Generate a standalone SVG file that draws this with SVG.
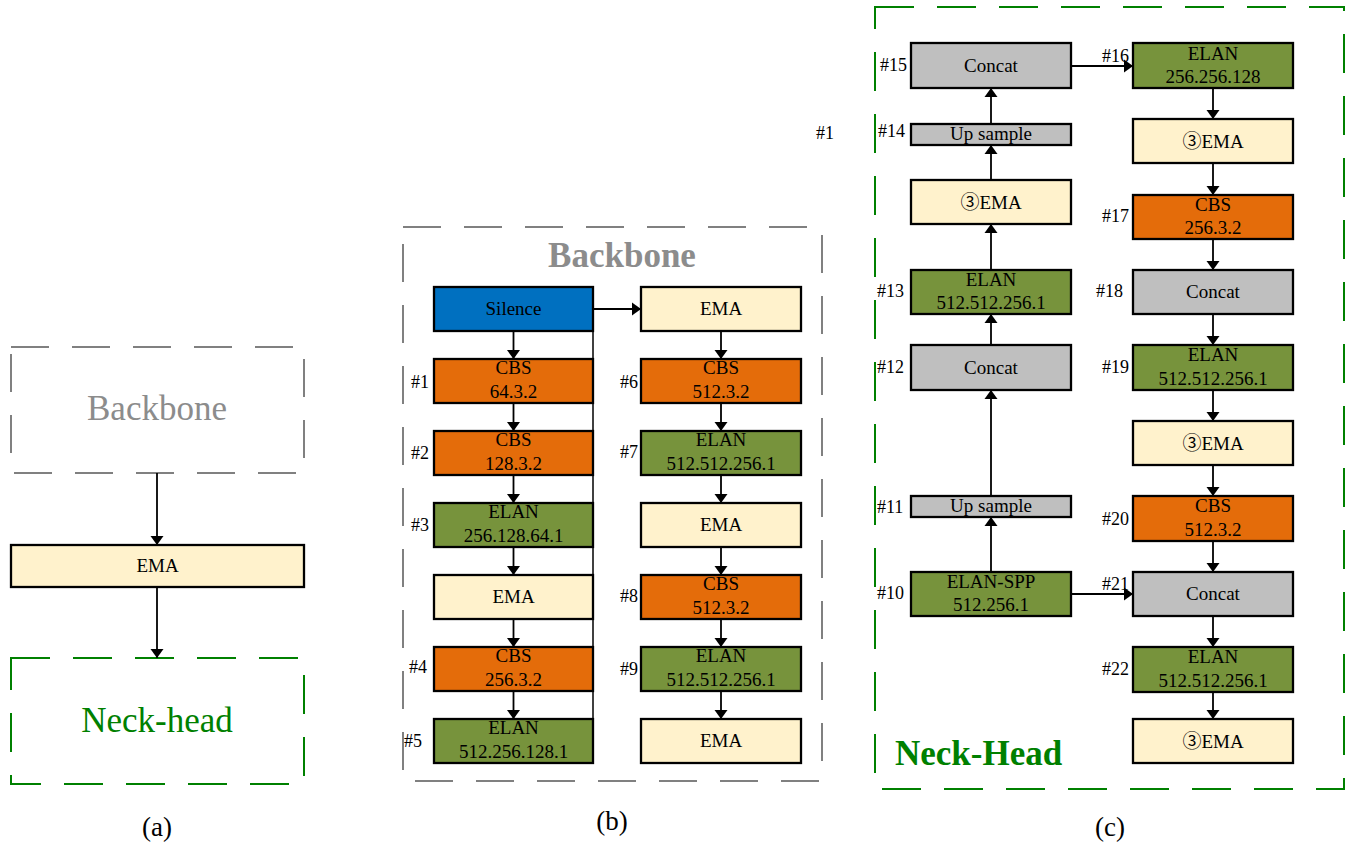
<svg xmlns="http://www.w3.org/2000/svg" width="1348" height="842" viewBox="0 0 1348 842">
<style>
.bx{stroke:#000;stroke-width:2.3}
.blue{fill:#0070C0}
.orange{fill:#E46C0A}
.green{fill:#77933C}
.gray{fill:#BFBFBF}
.ema{fill:#FFF2CC}
text{font-family:"Liberation Serif","Noto Sans CJK SC",serif;fill:#000}
.t{font-size:19px;text-anchor:middle}
.lb{font-size:18px}
.le{font-size:18px;text-anchor:end}
.cap{font-size:27px;text-anchor:middle}
.dg{fill:none;stroke:#808080;stroke-width:2;stroke-dasharray:38 23}
.dgr{fill:none;stroke:#008000;stroke-width:2;stroke-dasharray:39 23}
.c{fill:none;stroke:#000;stroke-width:1.8;marker-end:url(#ah)}
.cl{fill:none;stroke:#000;stroke-width:1.5}
</style>
<defs>
<marker id="ah" markerUnits="userSpaceOnUse" markerWidth="14" markerHeight="14" viewBox="0 0 14 14" refX="9" refY="7" orient="auto">
<path d="M0,0.5 L9,7 L0,13.5 z" fill="#000"/>
</marker>
</defs>
<rect width="1348" height="842" fill="#fff"/>

<!-- Panel (a) -->
<g id="a-backbone">
<rect class="dg" x="11" y="347" width="293" height="126"/>
<text x="157" y="420" font-size="35" text-anchor="middle" style="fill:#8c8c8c">Backbone</text>
</g>
<g id="a-ema">
<rect class="bx ema" x="11" y="545" width="293" height="42"/>
<text class="t" x="157.5" y="572">EMA</text>
</g>
<g id="a-neck">
<rect class="dgr" x="11" y="658" width="293" height="126"/>
<text x="157" y="732" font-size="35" text-anchor="middle" style="fill:#008000">Neck-head</text>
</g>
<text class="cap" x="157" y="836">(a)</text>

<!-- Panel (b) -->
<g id="b-frame">
<rect class="dg" x="403" y="227" width="419" height="554"/>
<text x="622" y="267" font-size="35" font-weight="bold" text-anchor="middle" style="fill:#8c8c8c">Backbone</text>
</g>
<g id="b-silence"><rect class="bx blue" x="434" y="287" width="159" height="44"/><text class="t" x="513.5" y="315">Silence</text></g>
<g id="b-1"><rect class="bx orange" x="434" y="359" width="159" height="44"/><text class="t" x="513.5" y="374">CBS</text><text class="t" x="513.5" y="398">64.3.2</text><text class="le" x="429" y="388">#1</text></g>
<g id="b-2"><rect class="bx orange" x="434" y="431" width="159" height="44"/><text class="t" x="513.5" y="446">CBS</text><text class="t" x="513.5" y="470">128.3.2</text><text class="le" x="429" y="459">#2</text></g>
<g id="b-3"><rect class="bx green" x="434" y="503" width="159" height="44"/><text class="t" x="513.5" y="518">ELAN</text><text class="t" x="513.5" y="542">256.128.64.1</text><text class="le" x="429" y="531">#3</text></g>
<g id="b-ema1"><rect class="bx ema" x="434" y="575" width="159" height="44"/><text class="t" x="513.5" y="603">EMA</text></g>
<g id="b-4"><rect class="bx orange" x="434" y="647" width="159" height="44"/><text class="t" x="513.5" y="662">CBS</text><text class="t" x="513.5" y="686">256.3.2</text><text class="le" x="427" y="673">#4</text></g>
<g id="b-5"><rect class="bx green" x="434" y="719" width="159" height="44"/><text class="t" x="513.5" y="734">ELAN</text><text class="t" x="513.5" y="758">512.256.128.1</text><text class="le" x="422" y="747">#5</text></g>

<g id="b-ema0"><rect class="bx ema" x="641" y="287" width="160" height="44"/><text class="t" x="721" y="315">EMA</text></g>
<g id="b-6"><rect class="bx orange" x="641" y="359" width="160" height="44"/><text class="t" x="721" y="374">CBS</text><text class="t" x="721" y="398">512.3.2</text><text class="le" x="638" y="388">#6</text></g>
<g id="b-7"><rect class="bx green" x="641" y="431" width="160" height="44"/><text class="t" x="721" y="446">ELAN</text><text class="t" x="721" y="470">512.512.256.1</text><text class="le" x="638" y="458">#7</text></g>
<g id="b-ema2"><rect class="bx ema" x="641" y="503" width="160" height="44"/><text class="t" x="721" y="531">EMA</text></g>
<g id="b-8"><rect class="bx orange" x="641" y="575" width="160" height="44"/><text class="t" x="721" y="590">CBS</text><text class="t" x="721" y="614">512.3.2</text><text class="le" x="638" y="602">#8</text></g>
<g id="b-9"><rect class="bx green" x="641" y="647" width="160" height="44"/><text class="t" x="721" y="662">ELAN</text><text class="t" x="721" y="686">512.512.256.1</text><text class="le" x="638" y="675">#9</text></g>
<g id="b-ema3"><rect class="bx ema" x="641" y="719" width="160" height="44"/><text class="t" x="721" y="747">EMA</text></g>
<text class="cap" x="612" y="830">(b)</text>

<!-- Panel (c) -->
<g id="c-frame">
<rect class="dgr" x="875" y="7" width="469" height="782"/>
<text x="895" y="765" font-size="35" font-weight="bold" style="fill:#008000">Neck-Head</text>
</g>
<text class="lb" x="816" y="139">#1</text>
<g id="c-15"><rect class="bx gray" x="911" y="43" width="160" height="45"/><text class="t" x="991" y="72">Concat</text><text class="le" x="907" y="71">#15</text></g>
<g id="c-14"><rect class="bx gray" x="911" y="124" width="160" height="21"/><text class="t" x="991" y="140">Up sample</text><text class="le" x="905" y="137">#14</text></g>
<g id="c-ema1"><rect class="bx ema" x="911" y="180" width="160" height="44"/><text class="t" x="991" y="209">③EMA</text></g>
<g id="c-13"><rect class="bx green" x="911" y="270" width="160" height="44"/><text class="t" x="991" y="286">ELAN</text><text class="t" x="991" y="309">512.512.256.1</text><text class="lb" x="877" y="297">#13</text></g>
<g id="c-12"><rect class="bx gray" x="911" y="345" width="160" height="45"/><text class="t" x="991" y="374">Concat</text><text class="lb" x="877" y="373">#12</text></g>
<g id="c-11"><rect class="bx gray" x="911" y="496" width="160" height="21"/><text class="t" x="991" y="512">Up sample</text><text class="lb" x="877" y="513">#11</text></g>
<g id="c-10"><rect class="bx green" x="911" y="572" width="160" height="44"/><text class="t" x="991" y="588">ELAN-SPP</text><text class="t" x="991" y="611">512.256.1</text><text class="lb" x="877" y="599">#10</text></g>

<g id="c-16"><rect class="bx green" x="1133" y="43" width="160" height="45"/><text class="t" x="1213" y="60">ELAN</text><text class="t" x="1213" y="83">256.256.128</text><text class="lb" x="1102" y="62">#16</text></g>
<g id="c-ema2"><rect class="bx ema" x="1133" y="119" width="160" height="44"/><text class="t" x="1213" y="148">③EMA</text></g>
<g id="c-17"><rect class="bx orange" x="1133" y="195" width="160" height="44"/><text class="t" x="1213" y="211">CBS</text><text class="t" x="1213" y="234">256.3.2</text><text class="lb" x="1102" y="222">#17</text></g>
<g id="c-18"><rect class="bx gray" x="1133" y="270" width="160" height="44"/><text class="t" x="1213" y="298">Concat</text><text class="lb" x="1096" y="297">#18</text></g>
<g id="c-19"><rect class="bx green" x="1133" y="345" width="160" height="45"/><text class="t" x="1213" y="361">ELAN</text><text class="t" x="1213" y="385">512.512.256.1</text><text class="lb" x="1102" y="373">#19</text></g>
<g id="c-ema3"><rect class="bx ema" x="1133" y="421" width="160" height="44"/><text class="t" x="1213" y="450">③EMA</text></g>
<g id="c-20"><rect class="bx orange" x="1133" y="496" width="160" height="45"/><text class="t" x="1213" y="512">CBS</text><text class="t" x="1213" y="536">512.3.2</text><text class="lb" x="1102" y="525">#20</text></g>
<g id="c-21"><rect class="bx gray" x="1133" y="572" width="160" height="44"/><text class="t" x="1213" y="600">Concat</text><text class="lb" x="1102" y="590">#21</text></g>
<g id="c-22"><rect class="bx green" x="1133" y="647" width="160" height="45"/><text class="t" x="1213" y="663">ELAN</text><text class="t" x="1213" y="687">512.512.256.1</text><text class="lb" x="1102" y="675">#22</text></g>
<g id="c-ema4"><rect class="bx ema" x="1133" y="719" width="160" height="44"/><text class="t" x="1213" y="748">③EMA</text></g>
<text class="cap" x="1110" y="836">(c)</text>

<g id="connectors">
<path class="c" d="M157,473 V545"/>
<path class="c" d="M157,587 V658"/>

<path class="cl" d="M593,309 V741"/>
<path class="c" d="M593,309 H641"/>
<path class="c" d="M513.5,331 V359"/>
<path class="c" d="M513.5,403 V431"/>
<path class="c" d="M513.5,475 V503"/>
<path class="c" d="M513.5,547 V575"/>
<path class="c" d="M513.5,619 V647"/>
<path class="c" d="M513.5,691 V719"/>
<path class="c" d="M721,331 V359"/>
<path class="c" d="M721,403 V431"/>
<path class="c" d="M721,475 V503"/>
<path class="c" d="M721,547 V575"/>
<path class="c" d="M721,619 V647"/>
<path class="c" d="M721,691 V719"/>

<path class="c" d="M1071,66 H1133"/>
<path class="c" d="M991,124 V88"/>
<path class="c" d="M991,180 V145"/>
<path class="c" d="M991,270 V224"/>
<path class="c" d="M991,345 V314"/>
<path class="c" d="M991,496 V390"/>
<path class="c" d="M991,572 V517"/>
<path class="c" d="M1071,594 H1133"/>
<path class="c" d="M1213,88 V119"/>
<path class="c" d="M1213,163 V195"/>
<path class="c" d="M1213,239 V270"/>
<path class="c" d="M1213,314 V345"/>
<path class="c" d="M1213,390 V421"/>
<path class="c" d="M1213,465 V496"/>
<path class="c" d="M1213,541 V572"/>
<path class="c" d="M1213,616 V647"/>
<path class="c" d="M1213,692 V719"/>
</g>
</svg>
